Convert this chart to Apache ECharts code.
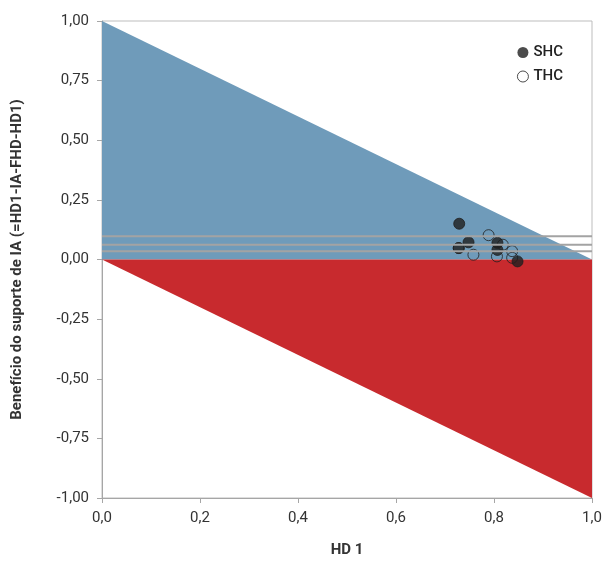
<!DOCTYPE html>
<html><head><meta charset="utf-8">
<script src="https://cdn.jsdelivr.net/npm/echarts@6/dist/echarts.min.js"></script>
<style>html,body{margin:0;padding:0;background:#fff}#c{width:604px;height:561px}</style>
</head><body><div id="c"></div>
<script>
const xTicks = [0, 0.2, 0.4, 0.6, 0.8, 1.0];
const yTicks = [-1, -0.75, -0.5, -0.25, 0, 0.25, 0.5, 0.75, 1];
const blueTriangle = [[0, 1], [1, 0], [0, 0]];
const redTriangle = [[0, 0], [1, 0], [1, -1]];
const refLines = [0.097, 0.062, 0.035];
const shcPoints = [[0.729, 0.150], [0.748, 0.072], [0.728, 0.048], [0.807, 0.070], [0.807, 0.040], [0.848, -0.008]];
const thcPoints = [[0.789, 0.102], [0.758, 0.020], [0.818, 0.062], [0.806, 0.013], [0.837, 0.035], [0.837, 0.007], [0.728, 0.048]];

const font = '"Roboto", sans-serif';
function poly(color, data, z) {
  return {
    type: 'custom', z: z, silent: true,
    renderItem: function (params, api) {
      if (params.dataIndex !== 0) return;
      const pts = data.map(p => api.coord(p));
      return { type: 'polygon', shape: { points: pts }, style: { fill: color } };
    },
    data: data
  };
}
const series = [
  poly('#6f9bba', blueTriangle, 1),
  poly('#c82a2e', redTriangle, 1),
  {
    name: 'SHC', type: 'scatter', z: 3, symbol: 'circle', symbolSize: 11,
    itemStyle: { color: '#1f1f1f', borderColor: '#1f1f1f', borderWidth: 1 },
    data: shcPoints
  },
  {
    name: 'THC', type: 'scatter', z: 3, symbol: 'circle', symbolSize: 11,
    itemStyle: { color: 'rgba(0,0,0,0)', borderColor: '#1f1f1f', borderWidth: 1 },
    data: thcPoints
  }
];
refLines.forEach(v => series.push({
  type: 'line', z: 4, silent: true, symbol: 'none',
  lineStyle: { color: '#a3a3a3', width: 2 },
  data: [[0, v], [1, v]]
}));

const chart = echarts.init(document.getElementById('c'));
chart.setOption({
  animation: false,
  textStyle: { fontFamily: font },
  grid: { left: 102, right: 12, top: 21, bottom: 63, containLabel: false, outerBoundsMode: 'none', show: true, borderColor: '#bdbdbd', borderWidth: 1 },
  legend: {
    orient: 'vertical', right: 36, top: 40, itemGap: 9, itemWidth: 11, itemHeight: 11,
    textStyle: { fontSize: 15, color: '#222', fontFamily: font, fontWeight: 500 },
    data: [
      { name: 'SHC', icon: 'circle', itemStyle: { color: '#1f1f1f', borderColor: '#1f1f1f', borderWidth: 0 } },
      { name: 'THC', icon: 'circle', itemStyle: { color: '#fff', borderColor: '#1f1f1f', borderWidth: 1 } }
    ]
  },
  xAxis: {
    type: 'value', min: 0, max: 1, interval: 0.2,
    name: 'HD 1', nameLocation: 'middle', nameGap: 45,
    nameTextStyle: { fontSize: 15, color: '#333', fontWeight: 'bold', fontFamily: font },
    axisLine: { show: true, onZero: false, lineStyle: { color: '#a6a6a6' } },
    axisTick: { show: true, length: 5, lineStyle: { color: '#a6a6a6' } },
    splitLine: { show: false },
    axisLabel: { fontSize: 15, color: '#333', margin: 13, formatter: v => v.toFixed(1).replace('.', ',') }
  },
  yAxis: {
    type: 'value', min: -1, max: 1, interval: 0.25,
    name: 'Benefício do suporte de IA (=HD1-IA-FHD-HD1)', nameLocation: 'middle', nameGap: 77,
    nameTextStyle: { fontSize: 15, color: '#333', fontWeight: 'bold', fontFamily: font },
    axisLine: { show: true, onZero: false, lineStyle: { color: '#a6a6a6' } },
    axisTick: { show: true, length: 5, lineStyle: { color: '#a6a6a6' } },
    splitLine: { show: false },
    axisLabel: { fontSize: 15, color: '#333', margin: 13, formatter: v => v.toFixed(2).replace('.', ',') }
  },
  series: series
});
</script></body></html>
